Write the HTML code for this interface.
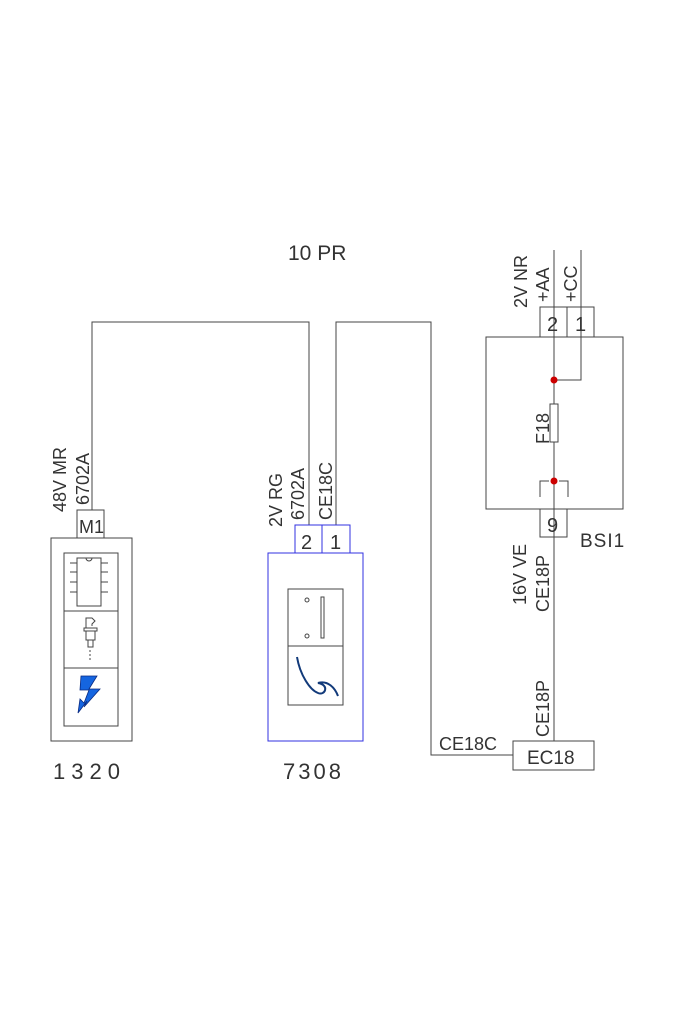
<!DOCTYPE html>
<html><head><meta charset="utf-8"><style>
html,body{margin:0;padding:0;background:#fff}
svg{display:block}
text{font-family:"Liberation Sans Narrow","Liberation Sans",sans-serif;fill:#333;font-weight:normal}
</style></head><body>
<svg width="700" height="1020" viewBox="0 0 700 1020" xmlns="http://www.w3.org/2000/svg">
<g fill="none" stroke="#444" stroke-width="1">
<polyline points="92,510 92,322 309,322 309,525"/>
<polyline points="336,525 336,322 431,322 431,755 513,755"/>
<line x1="554" y1="250" x2="554" y2="741"/>
<polyline points="581,250 581,380 554,380"/>
<rect x="77" y="510" width="27" height="28"/>
<rect x="51" y="538" width="81" height="203"/>
<rect x="64" y="553" width="54" height="173"/>
<line x1="64" y1="611" x2="118" y2="611"/>
<line x1="64" y1="668" x2="118" y2="668"/>
<rect x="77" y="558" width="24" height="48"/>
<path d="M86,558 a3,3 0 0 0 6,0"/>
<path d="M70,563h7M70,572h7M70,582h7M70,592h7M101,563h7M101,572h7M101,582h7M101,592h7"/>
<path d="M86,628v-10h6l3,3-3,3v2M84,628h13v3h-13zM86,631v9h9v-9M88,640v7h5v-7M90,650v2M90,654v2M90,658v2"/>
<rect x="486" y="337" width="137" height="172"/>
<rect x="540" y="307" width="27" height="30"/>
<rect x="567" y="307" width="27" height="30"/>
<rect x="540" y="509" width="27" height="28"/>
<rect x="550" y="404" width="8" height="38" fill="#fff"/>
<path d="M540,497V481h9M568,497V481h-9"/>
<rect x="513" y="741" width="81" height="29"/>
</g>
<path d="M81,676h16l-8,13h11l-16,18 3,-6-9,12 2,-14 4,4 5,-13h-9z" fill="#1565e0" stroke="#0a2a80" stroke-width="0.8"/>
<g fill="none" stroke="#3030e0" stroke-width="1">
<rect x="295" y="525" width="27" height="28"/>
<rect x="322" y="525" width="28" height="28"/>
<rect x="268" y="553" width="95" height="188"/>
</g>
<g fill="none" stroke="#444">
<rect x="288" y="589" width="55" height="57"/>
<rect x="288" y="646" width="55" height="59"/>
<circle cx="307" cy="600" r="2"/>
<circle cx="307" cy="636" r="2"/>
<rect x="321" y="597" width="3" height="41"/>
</g>
<path d="M297,657 C300,675 310,690 318,693 C325,696 330,685 318,683 C328,680 335,688 338,696" fill="none" stroke="#123a7a" stroke-width="2"/>
<circle cx="554" cy="380" r="3.5" fill="#c00"/>
<circle cx="554" cy="481" r="3.5" fill="#c00"/>
<text x="288" y="260" font-size="21">10 PR</text>
<text x="79" y="533" font-size="18">M1</text>
<text x="53" y="779" font-size="22" letter-spacing="6">1320</text>
<text x="283" y="779" font-size="22" letter-spacing="3">7308</text>
<text x="301" y="549" font-size="20">2</text>
<text x="330" y="549" font-size="20">1</text>
<text x="547" y="331" font-size="20">2</text>
<text x="575" y="331" font-size="20">1</text>
<text x="547" y="532" font-size="20">9</text>
<text x="580" y="547" font-size="19" letter-spacing="1">BSI1</text>
<text x="527" y="764" font-size="19">EC18</text>
<text x="439" y="750" font-size="18">CE18C</text>
<g font-size="18">
<text transform="translate(66,512) rotate(-90)">48V  MR</text>
<text transform="translate(89,505) rotate(-90)">6702A</text>
<text transform="translate(282,527) rotate(-90)">2V  RG</text>
<text transform="translate(304,520) rotate(-90)">6702A</text>
<text transform="translate(332,520) rotate(-90)">CE18C</text>
<text transform="translate(527,308) rotate(-90)">2V  NR</text>
<text transform="translate(549,302) rotate(-90)">+AA</text>
<text transform="translate(577,302) rotate(-90)">+CC</text>
<text transform="translate(549,444) rotate(-90)">F18</text>
<text transform="translate(526,605) rotate(-90)">16V  VE</text>
<text transform="translate(549,612) rotate(-90)">CE18P</text>
<text transform="translate(549,737) rotate(-90)">CE18P</text>
</g>
</svg>
</body></html>
